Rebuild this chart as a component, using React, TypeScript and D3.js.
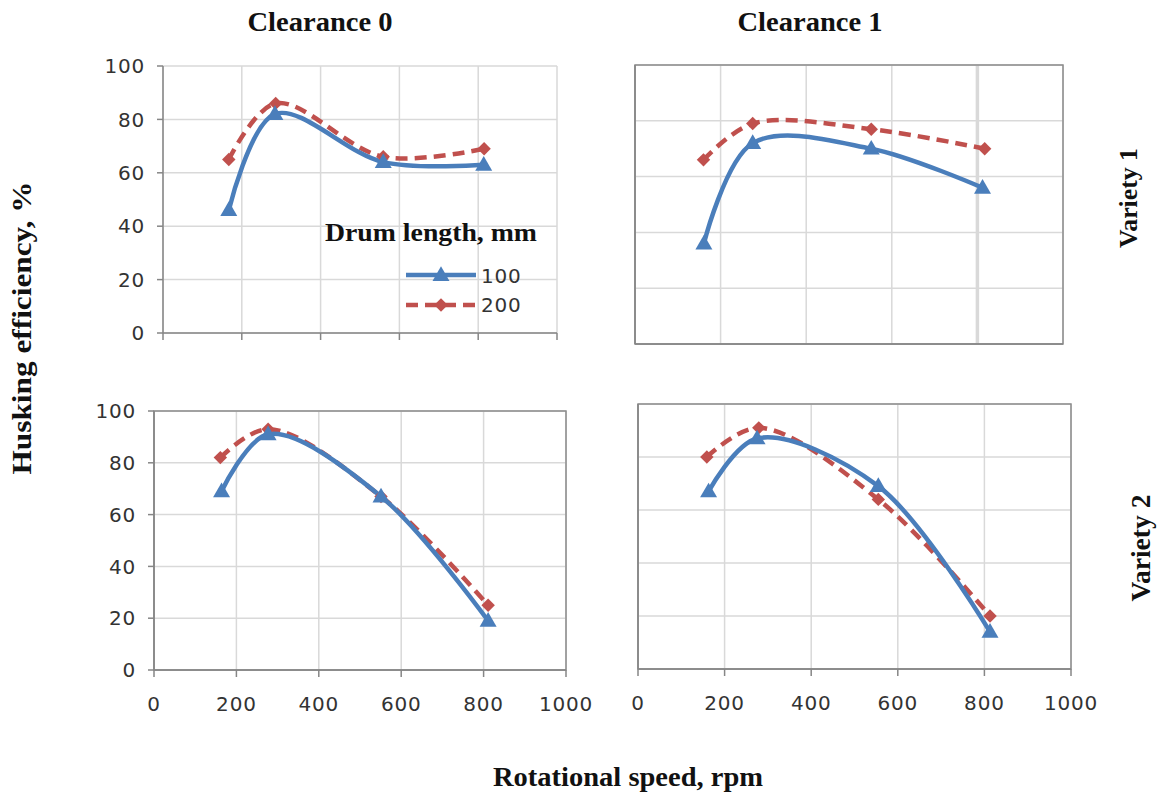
import React from "react";
import * as d3 from "d3";

// ---- data ----
const columnTitles = ["Clearance 0", "Clearance 1"];
const rowTitles = ["Variety 1", "Variety 2"];
const xTicks = [0, 200, 400, 600, 800, 1000];
const yTicks = [0, 20, 40, 60, 80, 100];
const seriesNames = ["100", "200"];
const legendTitle = "Drum length, mm";
const yTitle = "Husking efficiency, %";
const xTitle = "Rotational speed, rpm";

// Variety 1, Clearance 0
const v1c0Speed100 = [167, 284, 559, 814];
const v1c0Eff100 = [46, 82, 64, 63];
const v1c0Speed200 = [167, 286, 559, 815];
const v1c0Eff200 = [65, 86, 66, 69];
// Variety 1, Clearance 1
const v1c1Speed100 = [161, 275, 552, 812];
const v1c1Eff100 = [36, 72, 70, 56];
const v1c1Speed200 = [160, 275, 552, 817];
const v1c1Eff200 = [66, 79, 77, 70];
// Variety 2, Clearance 0
const v2c0Speed100 = [164, 277, 551, 811];
const v2c0Eff100 = [69, 91, 67, 19];
const v2c0Speed200 = [161, 277, 551, 811];
const v2c0Eff200 = [82, 93, 67, 25];
// Variety 2, Clearance 1
const v2c1Speed100 = [163, 275, 555, 813];
const v2c1Eff100 = [67, 87, 69, 14];
const v2c1Speed200 = [159, 279, 555, 813];
const v2c1Eff200 = [80, 91, 64, 20];

const BLUE = "#4a7ebb";
const RED = "#c0504d";
const GRID = "#d9d9d9";
const AXIS = "#868686";
const TICKFONT = "'DejaVu Sans', sans-serif";
const SERIF = "'Liberation Serif', 'Times New Roman', serif";

type Panel = {
  x0: number; x1: number; yTop: number; yBot: number;
  s100: number[]; e100: number[]; s200: number[]; e200: number[];
  yLabels: boolean; xLabels: boolean; yTickMarks: boolean; xTickMarks: boolean;
  box: boolean; thickGrid800?: boolean;
};

const panels: Panel[] = [
  { x0: 163, x1: 557, yTop: 66, yBot: 333, s100: v1c0Speed100, e100: v1c0Eff100, s200: v1c0Speed200, e200: v1c0Eff200,
    yLabels: true, xLabels: false, yTickMarks: true, xTickMarks: true, box: false },
  { x0: 635, x1: 1063, yTop: 65, yBot: 344, s100: v1c1Speed100, e100: v1c1Eff100, s200: v1c1Speed200, e200: v1c1Eff200,
    yLabels: false, xLabels: false, yTickMarks: false, xTickMarks: false, box: true, thickGrid800: true },
  { x0: 154, x1: 566, yTop: 411, yBot: 670, s100: v2c0Speed100, e100: v2c0Eff100, s200: v2c0Speed200, e200: v2c0Eff200,
    yLabels: true, xLabels: true, yTickMarks: true, xTickMarks: true, box: true },
  { x0: 638, x1: 1071, yTop: 404, yBot: 669, s100: v2c1Speed100, e100: v2c1Eff100, s200: v2c1Speed200, e200: v2c1Eff200,
    yLabels: false, xLabels: true, yTickMarks: false, xTickMarks: true, box: true },
];

const triangle = d3.symbol().type(d3.symbolTriangle).size(125)();
const diamond = d3.symbol().type(d3.symbolDiamond2).size(115)();

function PanelView({ p }: { p: Panel }) {
  const x = d3.scaleLinear().domain([0, 1000]).range([p.x0, p.x1]);
  const y = d3.scaleLinear().domain([0, 100]).range([p.yBot, p.yTop]);
  const line = d3
    .line<[number, number]>()
    .x((d) => x(d[0]))
    .y((d) => y(d[1]))
    .curve(d3.curveCatmullRom.alpha(0.5));
  const pts100: [number, number][] = p.s100.map((s, i) => [s, p.e100[i]]);
  const pts200: [number, number][] = p.s200.map((s, i) => [s, p.e200[i]]);
  return (
    <g>
      {yTicks.map((t) => (
        <line key={"hg" + t} x1={p.x0} x2={p.x1} y1={y(t)} y2={y(t)} stroke={GRID} strokeWidth={1.5} />
      ))}
      {xTicks.map((t) => (
        <line key={"vg" + t} x1={x(t)} x2={x(t)} y1={p.yTop} y2={p.yBot} stroke={GRID}
          strokeWidth={p.thickGrid800 && t === 800 ? 3.5 : 1.5} />
      ))}
      {p.box && (
        <rect x={p.x0} y={p.yTop} width={p.x1 - p.x0} height={p.yBot - p.yTop} fill="none" stroke="#8c8c8c" strokeWidth={1.5} />
      )}
      <line x1={p.x0} x2={p.x0} y1={p.yTop} y2={p.yBot} stroke={AXIS} strokeWidth={1.5} />
      <line x1={p.x0} x2={p.x1} y1={p.yBot} y2={p.yBot} stroke={AXIS} strokeWidth={1.5} />
      {p.xTickMarks && xTicks.map((t) => (
        <line key={"xt" + t} x1={x(t)} x2={x(t)} y1={p.yBot} y2={p.yBot + 7} stroke={AXIS} strokeWidth={1.5} />
      ))}
      {p.yTickMarks && yTicks.map((t) => (
        <line key={"yt" + t} x1={p.x0 - 6} x2={p.x0} y1={y(t)} y2={y(t)} stroke={AXIS} strokeWidth={1.5} />
      ))}
      {p.yLabels && yTicks.map((t) => (
        <text key={"yl" + t} x={p.x0 - 18} y={y(t)} dy="0.36em" textAnchor="end" fontFamily={TICKFONT}
          fontSize={20} fill="#333" letterSpacing={0.8}>{t}</text>
      ))}
      {p.xLabels && xTicks.map((t) => (
        <text key={"xl" + t} x={x(t)} y={p.yBot + 34} dy="0.36em" textAnchor="middle" fontFamily={TICKFONT}
          fontSize={20} fill="#333" letterSpacing={0.8}>{t}</text>
      ))}
      <path d={line(pts200) || ""} fill="none" stroke={RED} strokeWidth={4.5} strokeDasharray="12 7" />
      <path d={line(pts100) || ""} fill="none" stroke={BLUE} strokeWidth={4.5} />
      {pts200.map((d, i) => (
        <path key={"m2" + i} d={diamond} transform={`translate(${x(d[0])},${y(d[1])})`} fill={RED} />
      ))}
      {pts100.map((d, i) => (
        <path key={"m1" + i} d={triangle} transform={`translate(${x(d[0])},${y(d[1]) + 1})`} fill={BLUE} />
      ))}
    </g>
  );
}

export default function App() {
  const lx1 = 406, lx2 = 476;
  return (
    <div style={{ position: "absolute", left: 0, top: 0, background: "#fff" }}>
      <svg width={1162} height={798} style={{ display: "block" }}>
        <rect width={1162} height={798} fill="#fff" />
        {panels.map((p, i) => <PanelView key={i} p={p} />)}

        {/* legend */}
        <text x={431} y={241} textAnchor="middle" fontFamily={SERIF} fontWeight="bold" fontSize={25}
          fill="#111" textLength={212} lengthAdjust="spacingAndGlyphs">{legendTitle}</text>
        <line x1={lx1} x2={lx2} y1={275} y2={275} stroke={BLUE} strokeWidth={4.5} />
        <path d={triangle} transform={`translate(${(lx1 + lx2) / 2},276)`} fill={BLUE} />
        <text x={481} y={276} dy="0.36em" fontFamily={TICKFONT} fontSize={20} fill="#333" letterSpacing={0.8}>{seriesNames[0]}</text>
        <line x1={lx1} x2={lx2} y1={305} y2={305} stroke={RED} strokeWidth={4.5} strokeDasharray="12 7" />
        <path d={diamond} transform={`translate(${(lx1 + lx2) / 2},305)`} fill={RED} />
        <text x={481} y={305} dy="0.36em" fontFamily={TICKFONT} fontSize={20} fill="#333" letterSpacing={0.8}>{seriesNames[1]}</text>

        {/* titles */}
        <text x={320} y={31} textAnchor="middle" fontFamily={SERIF} fontWeight="bold" fontSize={27}
          fill="#111" textLength={145} lengthAdjust="spacingAndGlyphs">{columnTitles[0]}</text>
        <text x={810} y={31} textAnchor="middle" fontFamily={SERIF} fontWeight="bold" fontSize={27}
          fill="#111" textLength={145} lengthAdjust="spacingAndGlyphs">{columnTitles[1]}</text>
        <text transform="translate(1137,198) rotate(-90)" textAnchor="middle" fontFamily={SERIF} fontWeight="bold"
          fontSize={26} fill="#111" textLength={100} lengthAdjust="spacingAndGlyphs">{rowTitles[0]}</text>
        <text transform="translate(1150,548) rotate(-90)" textAnchor="middle" fontFamily={SERIF} fontWeight="bold"
          fontSize={27} fill="#111" textLength={107} lengthAdjust="spacingAndGlyphs">{rowTitles[1]}</text>
        <text transform="translate(31,328) rotate(-90)" textAnchor="middle" fontFamily={SERIF} fontWeight="bold"
          fontSize={27} fill="#111" textLength={293} lengthAdjust="spacingAndGlyphs">{yTitle}</text>
        <text x={628} y={786} textAnchor="middle" fontFamily={SERIF} fontWeight="bold" fontSize={27}
          fill="#111" textLength={270} lengthAdjust="spacingAndGlyphs">{xTitle}</text>
      </svg>
    </div>
  );
}
